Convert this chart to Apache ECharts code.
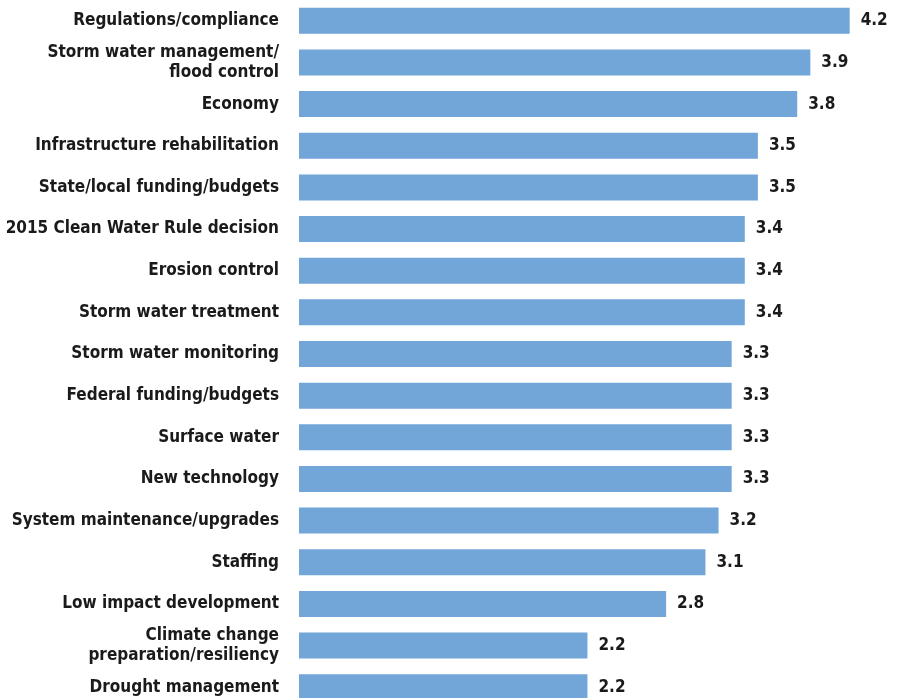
<!DOCTYPE html>
<html>
<head>
<meta charset="utf-8">
<script src="https://cdn.jsdelivr.net/npm/echarts@6/dist/echarts.min.js"></script>
<style>
  html, body { margin: 0; padding: 0; background: #fff; }
  #chart { width: 903px; height: 698px; }
</style>
</head>
<body>
<div id="chart"></div>
<script>
var categories = [
  "Regulations/compliance",
  "Storm water management/\nflood control",
  "Economy",
  "Infrastructure rehabilitation",
  "State/local funding/budgets",
  "2015 Clean Water Rule decision",
  "Erosion control",
  "Storm water treatment",
  "Storm water monitoring",
  "Federal funding/budgets",
  "Surface water",
  "New technology",
  "System maintenance/upgrades",
  "Staffing",
  "Low impact development",
  "Climate change\npreparation/resiliency",
  "Drought management"
];
var scores = [4.2, 3.9, 3.8, 3.5, 3.5, 3.4, 3.4, 3.4, 3.3, 3.3, 3.3, 3.3, 3.2, 3.1, 2.8, 2.2, 2.2];

var font = '"DejaVu Sans Condensed", "Liberation Sans Narrow", sans-serif';

var chart = echarts.init(document.getElementById("chart"));
chart.setOption({
  backgroundColor: "#ffffff",
  animation: false,
  grid: {
    left: 299, right: 14, top: 0, bottom: -10,
    containLabel: false,
    outerBoundsMode: "none"
  },
  xAxis: {
    type: "value",
    min: 0,
    max: 4.5,
    show: false
  },
  yAxis: {
    type: "category",
    data: categories,
    inverse: true,
    axisLine: { show: false },
    axisTick: { show: false },
    axisLabel: {
      margin: 20,
      fontFamily: font,
      fontWeight: "bold",
      fontSize: 17,
      lineHeight: 20,
      color: "#1a1a1a",
      align: "right"
    }
  },
  series: [
    {
      type: "bar",
      data: scores,
      barWidth: 26,
      itemStyle: { color: "#72a5d8" },
      label: {
        show: true,
        position: "right",
        distance: 11,
        fontFamily: font,
        fontWeight: "bold",
        fontSize: 17,
        color: "#1a1a1a",
        formatter: function (p) { return p.value.toFixed(1); }
      }
    }
  ]
});
</script>
</body>
</html>
